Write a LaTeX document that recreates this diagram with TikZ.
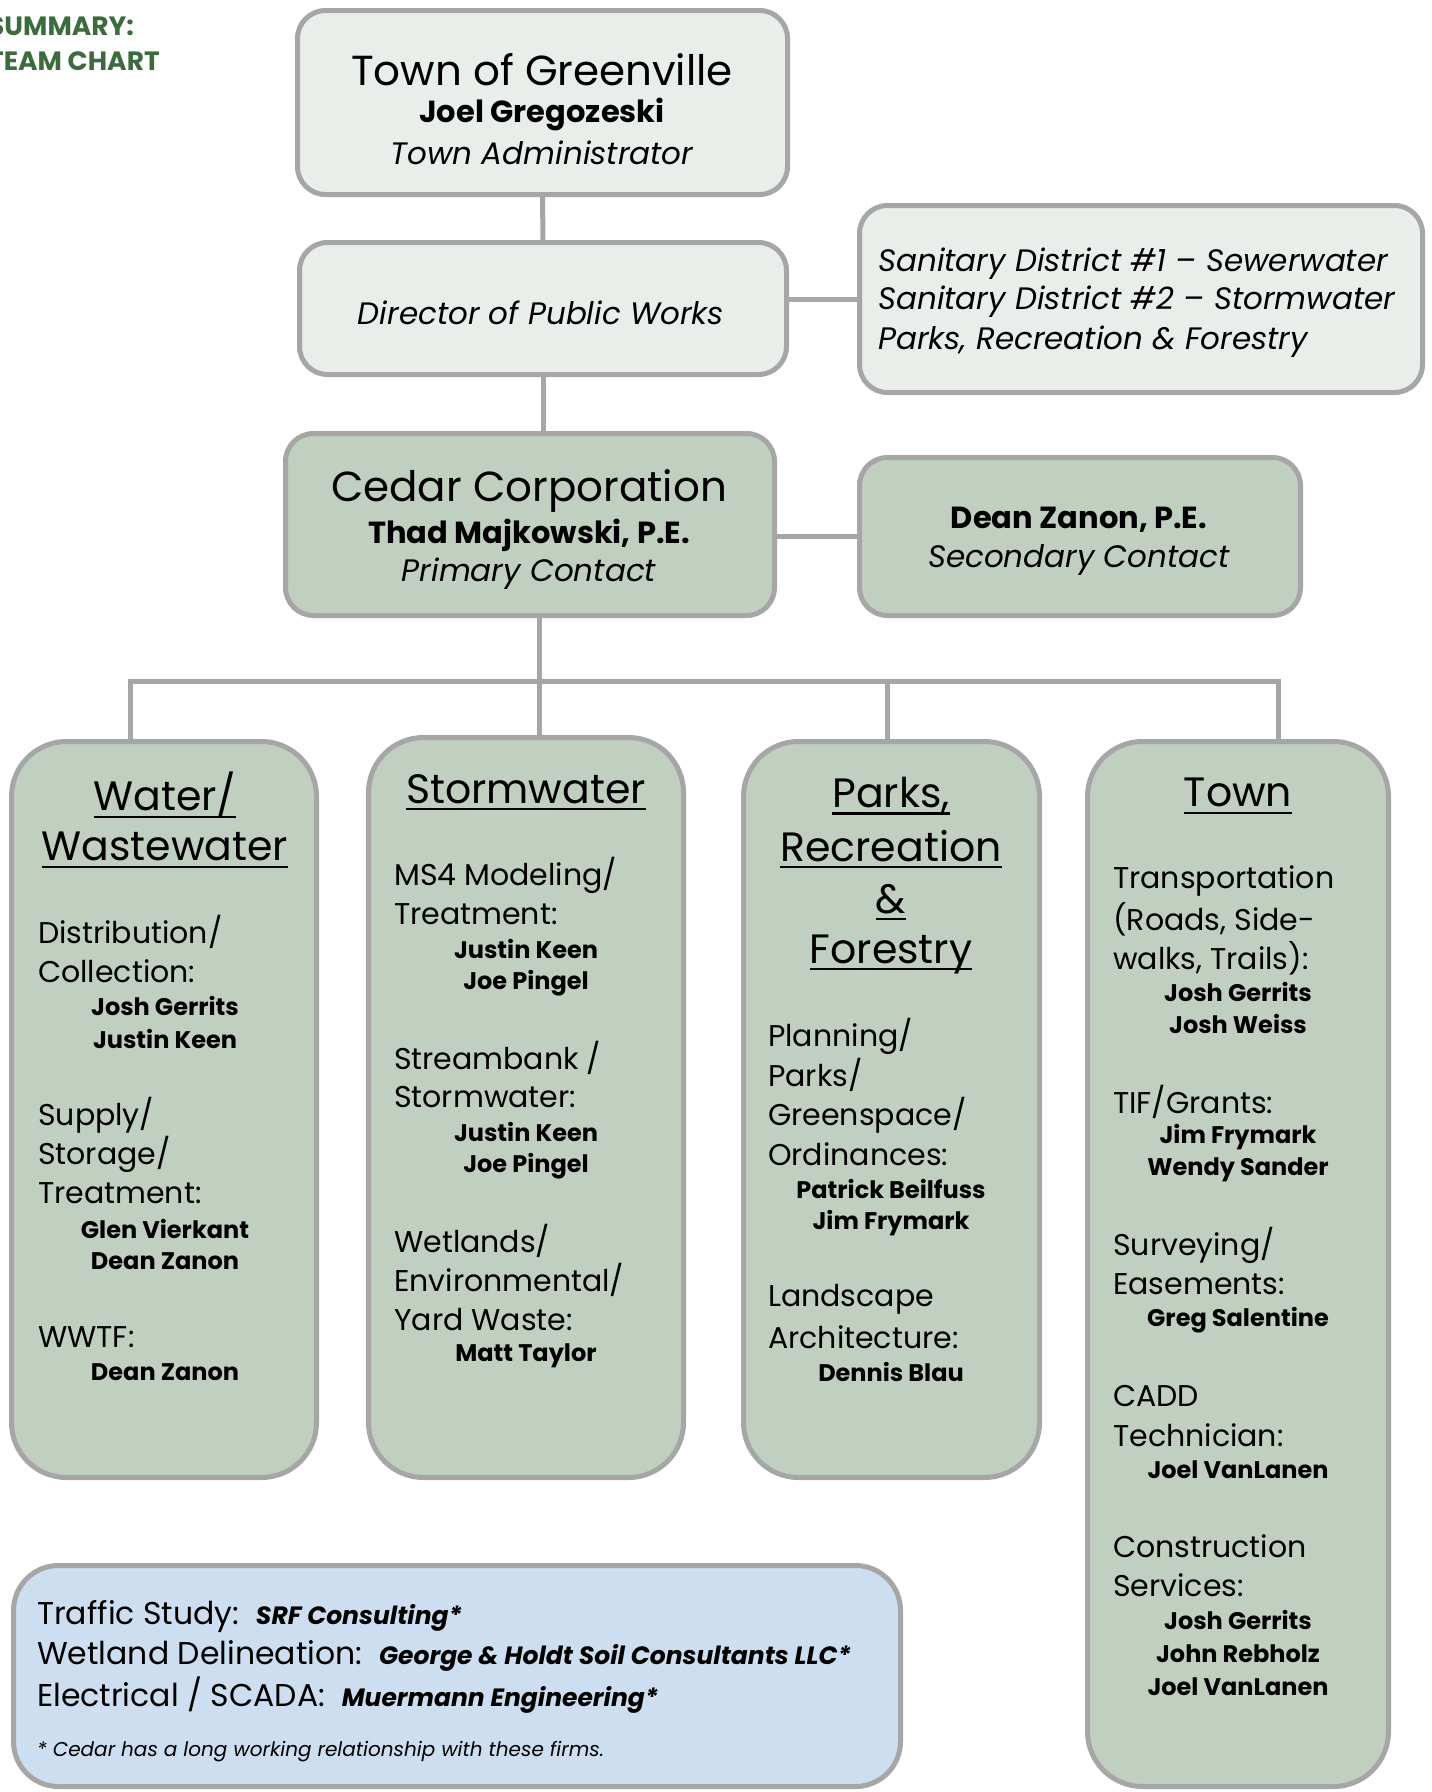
\documentclass[tikz,border=0pt]{standalone}
\usepackage{fontspec}
\setmainfont{Poppins}
\newcommand\hul[1]{\leavevmode\setbox0=\hbox{#1}\rlap{\raisebox{-0.17em}{\rule{\wd0}{0.055em}}}\box0}
\definecolor{bordergray}{HTML}{A6A6A6}
\definecolor{lightfill}{HTML}{E9EEEA}
\definecolor{sage}{HTML}{C0CFC0}
\definecolor{bluefill}{HTML}{CCDEEF}
\definecolor{titlegreen}{HTML}{3D6B40}
\begin{document}
\begin{tikzpicture}[x=1pt,y=-1pt,
  box/.style={draw=bordergray, line width=5pt, rounded corners=28pt, inner sep=0pt},
  lightbox/.style={box, fill=lightfill},
  sagebox/.style={box, fill=sage},
  colbox/.style={box, fill=sage, rounded corners=55pt},
  bluebox/.style={box, fill=bluefill, rounded corners=45pt},
  conn/.style={draw=bordergray, line width=5pt},
  big/.style={inner sep=0pt, font=\fontsize{42}{50}\selectfont},
  mid/.style={inner sep=0pt, font=\fontsize{31}{37}\selectfont},
  midb/.style={mid, font=\fontsize{30.5}{37}\selectfont\bfseries},
  midi/.style={mid, font=\fontsize{31}{37}\selectfont\itshape},
  head/.style={inner sep=0pt, font=\fontsize{41}{50}\selectfont},
  reg/.style={anchor=west, inner sep=0pt, font=\fontsize{30}{36}\selectfont},
  nm/.style={inner sep=0pt, font=\fontsize{24}{30}\selectfont\bfseries},
  firm/.style={inner sep=0pt, font=\fontsize{25}{30}\selectfont\bfseries\itshape}
]
\useasboundingbox (0,0) rectangle (1432,1792);
\clip (0,0) rectangle (1432,1792);
\fill[white] (0,0) rectangle (1432,1792);

% title
\node[anchor=north west, inner sep=0pt, align=left, text=titlegreen,
  font=\fontsize{26.5}{35}\selectfont\bfseries] (title) at (-12,16) {SUMMARY:\\TEAM CHART};

% boxes
\node[lightbox, minimum width=490pt, minimum height=184pt] (gov) at (542.5,102.5) {};
\node[lightbox, minimum width=487pt, minimum height=132pt] (dpw) at (543,308.5) {};
\node[lightbox, minimum width=563pt, minimum height=187pt] (san) at (1141,299) {};
\node[sagebox, minimum width=489pt, minimum height=182pt] (cedar) at (530,524.5) {};
\node[sagebox, minimum width=441pt, minimum height=158pt] (dean) at (1080,536.5) {};
\node[colbox, minimum width=305pt, minimum height=736pt] (water) at (164,1109.5) {};
\node[colbox, minimum width=315pt, minimum height=740pt] (storm) at (526,1107.5) {};
\node[colbox, minimum width=296pt, minimum height=736pt] (parks) at (891.5,1109.5) {};
\node[colbox, minimum width=301pt, minimum height=1045pt] (town) at (1238,1264) {};
\node[bluebox, minimum width=887pt, minimum height=221pt] (ext) at (457,1676) {};

% connectors
\coordinate (j1) at (130,681);
\coordinate (j2) at (539,681);
\coordinate (j3) at (887,681);
\coordinate (j4) at (1278,681);
\draw[conn] (gov.south) -- (dpw.north);
\draw[conn] (dpw.east |- san.west) -- (san.west);
\draw[conn] (dpw.south) -- (dpw.south |- cedar.north);
\draw[conn] (cedar.east |- dean.west) -- (dean.west);
\draw[conn] (cedar.south -| j2) -- (j2);
\draw[conn, line cap=rect] (j1) -- (j4);
\draw[conn] (j1) -- (j1 |- water.north);
\draw[conn] (j2) -- (j2 |- storm.north);
\draw[conn] (j3) -- (j3 |- parks.north);
\draw[conn] (j4) -- (j4 |- town.north);

% top texts
\node[big] (govA) at (542,70) {Town of Greenville};
\node[midb] (govB) at (542,114) {Joel Gregozeski};
\node[midi] (govC) at (542,153) {Town Administrator};
\node[midi] (dpwA) at (541,313) {Director of Public Works};
\node[midi, anchor=west] (sanA) at (878,264) {Sanitary District \#1 – Sewerwater};
\node[midi, anchor=west] (sanB) at (878,302) {Sanitary District \#2 – Stormwater};
\node[midi, anchor=west] (sanC) at (878,342) {Parks, Recreation \& Forestry};
\node[big] (cedA) at (529,491) {Cedar Corporation};
\node[midb] (cedB) at (529,535) {Thad Majkowski, P.E.};
\node[midi] (cedC) at (529,574) {Primary Contact};
\node[midb] (deanA) at (1079,520) {Dean Zanon, P.E.};
\node[midi] (deanB) at (1079,560) {Secondary Contact};

% headings
\node[head] (hw1) at (165,795) {\hul{Water/}};
\node[head] (hw2) at (165,850) {\hul{Wastewater}};
\node[head] (hs1) at (526,792) {\hul{Stormwater}};
\node[head] (hp1) at (891,796) {\hul{Parks,}};
\node[head] (hp2) at (891,849) {\hul{Recreation}};
\node[head] (hp3) at (891,902) {\hul{\&}};
\node[head] (hp4) at (891,954) {\hul{Forestry}};
\node[head] (ht1) at (1238,796) {\hul{Town}};

% water
\foreach \y/\t [count=\i] in {932/{Distribution/}, 971/{Collection:}, 1115/{Supply/}, 1154/{Storage/}, 1193/{Treatment:}, 1337/{WWTF:}}
  \node[reg] (wr\i) at (38,\y) {\t};
\foreach \y/\t [count=\i] in {1006/{Josh Gerrits}, 1039/{Justin Keen}, 1229/{Glen Vierkant}, 1261/{Dean Zanon}, 1372/{Dean Zanon}}
  \node[nm] (wn\i) at (165,\y) {\t};

% stormwater
\foreach \y/\t [count=\i] in {875/{MS4 Modeling/}, 914/{Treatment:}, 1058/{Streambank /}, 1097/{Stormwater:}, 1241/{Wetlands/}, 1280/{Environmental/}, 1320/{Yard Waste:}}
  \node[reg] (sr\i) at (394,\y) {\t};
\foreach \y/\t [count=\i] in {949/{Justin Keen}, 983/{Joe Pingel}, 1132/{Justin Keen}, 1166/{Joe Pingel}, 1356/{Matt Taylor}}
  \node[nm] (sn\i) at (526,\y) {\t};

% parks
\foreach \y/\t [count=\i] in {1036/{Planning/}, 1075/{Parks/}, 1115/{Greenspace/}, 1154/{Ordinances:}, 1299/{Landscape}, 1337/{Architecture:}}
  \node[reg] (pr\i) at (768,\y) {\t};
\foreach \y/\t [count=\i] in {1189/{Patrick Beilfuss}, 1223/{Jim Frymark}, 1372/{Dennis Blau}}
  \node[nm] (pn\i) at (891,\y) {\t};

% town
\foreach \y/\t [count=\i] in {881/{Transportation}, 919/{(Roads, Side-}, 958/{walks, Trails):}, 1102/{TIF/Grants:}, 1245/{Surveying/}, 1284/{Easements:}, 1396/{CADD}, 1435/{Technician:}, 1546/{Construction}, 1585/{Services:}}
  \node[reg] (tr\i) at (1113,\y) {\t};
\foreach \y/\t [count=\i] in {992/{Josh Gerrits}, 1024/{Josh Weiss}, 1137/{Jim Frymark}, 1170/{Wendy Sander}, 1320/{Greg Salentine}, 1470/{Joel VanLanen}, 1620/{Josh Gerrits}, 1654/{John Rebholz}, 1687/{Joel VanLanen}}
  \node[nm] (tn\i) at (1238,\y) {\t};

% external firms
\node[reg, font=\fontsize{31.5}{38}\selectfont] (e1) at (37,1617) {Traffic Study:\ \ {\fontsize{25}{30}\selectfont\bfseries\itshape SRF Consulting*}};
\node[reg, font=\fontsize{31.5}{38}\selectfont] (e2) at (37,1656) {Wetland Delineation:\ \ {\fontsize{25}{30}\selectfont\bfseries\itshape George \& Holdt Soil Consultants LLC*}};
\node[reg, font=\fontsize{31.5}{38}\selectfont] (e3) at (37,1695) {Electrical / SCADA:\ \ {\fontsize{25}{30}\selectfont\bfseries\itshape Muermann Engineering*}};
\node[reg, font=\fontsize{20}{24}\selectfont\itshape] (e4) at (37,1752) {* Cedar has a long working relationship with these firms.};
\end{tikzpicture}
\end{document}
